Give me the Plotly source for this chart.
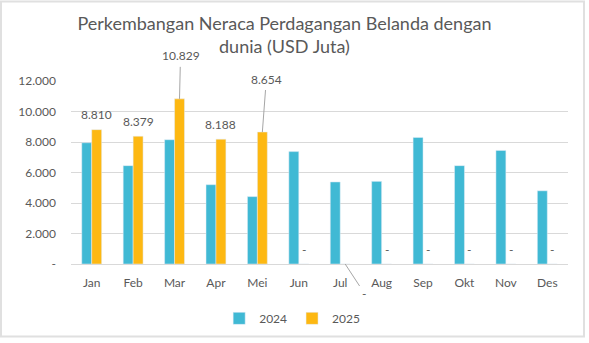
import plotly.graph_objects as go

months = ["Jan", "Feb", "Mar", "Apr", "Mei", "Jun", "Jul", "Aug", "Sep", "Okt", "Nov", "Des"]
values_2024 = [7950, 6450, 8150, 5200, 4420, 7370, 5380, 5420, 8300, 6450, 7450, 4800]
values_2025 = [8810, 8379, 10829, 8188, 8654, 0, 0, 0, 0, 0, 0, 0]
y_tickvals = [0, 2000, 4000, 6000, 8000, 10000, 12000]
y_ticktext = ["-", "2.000", "4.000", "6.000", "8.000", "10.000", "12.000"]

FONT = "Lato"
GREY = "#595959"
C2024 = "#40B9D4"
C2025 = "#FDB812"


def fmt(v):
    return "-" if v == 0 else f"{v:,}".replace(",", ".")


fig = go.Figure()
fig.add_trace(go.Bar(x=months, y=values_2024, name="2024", marker_color=C2024))
fig.add_trace(go.Bar(x=months, y=values_2025, name="2025", marker_color=C2025))

# label offsets for the 2025 data labels that were moved (with leader lines)
moved = {"Mar": (1, -43), "Mei": (4, -53), "Jul": (19, 29)}
annotations = []
for i, (m, v) in enumerate(zip(months, values_2025)):
    xpos = i + 0.12
    if m in moved:
        ax, ay = moved[m]
        annotations.append(dict(
            x=xpos, y=v, xref="x", yref="y", text=fmt(v), showarrow=True,
            arrowhead=0, arrowwidth=1, arrowcolor="#a6a6a6", ax=ax, ay=ay,
            standoff=0, startstandoff=2, font=dict(family=FONT, size=12, color=GREY)))
    else:
        annotations.append(dict(
            x=xpos, y=v, xref="x", yref="y", text=fmt(v), showarrow=False,
            yshift=15, font=dict(family=FONT, size=12, color=GREY)))

fig.update_layout(
    width=589, height=343, autosize=False,
    margin=dict(l=71, r=21, t=81, b=78),
    paper_bgcolor="white", plot_bgcolor="white",
    title=dict(text="Perkembangan Neraca Perdagangan Belanda dengan<br>dunia (USD Juta)",
               x=0.483, xanchor="center", xref="container",
               y=1 - 30 / 343, yanchor="middle", yref="container",
               font=dict(family=FONT, size=18, color=GREY)),
    barmode="group", bargap=0.52, bargroupgap=0,
    font=dict(family=FONT, size=12, color=GREY),
    xaxis=dict(showgrid=False, showline=False, ticks="", tickfont=dict(size=12, color=GREY),
               ticklabelstandoff=10),
    yaxis=dict(range=[0, 12000], tickvals=y_tickvals, ticktext=y_ticktext,
               showgrid=True, gridcolor="#d9d9d9", gridwidth=1.3,
               zeroline=True, zerolinecolor="#d9d9d9", zerolinewidth=1.3,
               ticks="", tickfont=dict(size=12, color=GREY), ticklabelstandoff=14),
    legend=dict(orientation="h", x=0.445, xanchor="center", y=-0.29, yanchor="middle",
                font=dict(family=FONT, size=12, color=GREY), itemwidth=30),
    annotations=annotations,
    showlegend=True,
)
# outer chart frame
fig.add_shape(type="rect", xref="paper", yref="paper",
              x0=-70 / 497, x1=(584 - 71) / 497, y0=-(338 - 265) / 184, y1=1 + 80 / 184,
              line=dict(color="#e0e0e0", width=2), layer="below")

fig.write_html("out.html")
